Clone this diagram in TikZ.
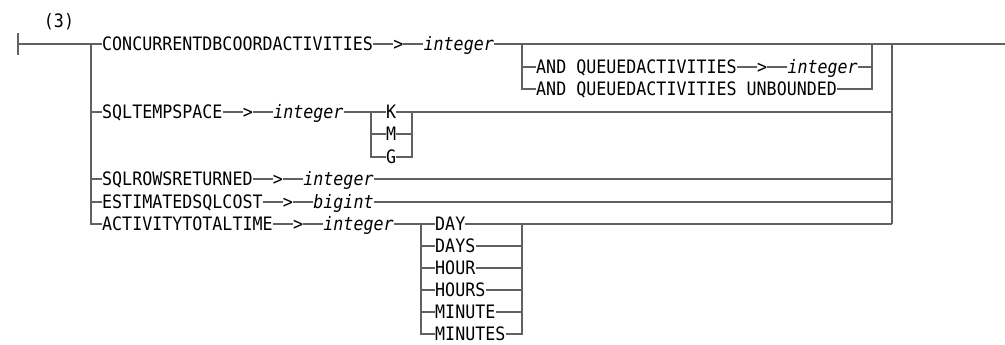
\documentclass[tikz,border=0pt]{standalone}
\usepackage{fontspec}
\newfontfamily\railfont[FakeStretch=0.9]{DejaVu Sans Mono}
\usetikzlibrary{positioning,calc}

\begin{document}
\begin{tikzpicture}[
            x=1pt, y=-1pt,
            node distance=20pt,
            kw/.style={inner sep=0pt, text height=13.5pt, text depth=0pt,
                       font={\fontsize{18.5pt}{19pt}\railfont}},
            var/.style={kw, font={\fontsize{18.5pt}{19pt}\railfont\itshape}},
            rail/.style={line width=1.6pt, draw=black!62}
        ]
            \useasboundingbox (0,0) rectangle (1005,345);

            \node[kw] (note) at (59,21) {(3)};
            \coordinate (start) at (18,44);
            \coordinate (split) at (91,44);
            \coordinate (join) at (892,44);
            \coordinate (finish) at (1005,44);

            \node[kw, anchor=west] (conc) at (102,44) {CONCURRENTDBCOORDACTIVITIES};
            \node[kw, right=of conc] (concgt) {>};
            \node[var, right=of concgt] (concint) {integer};
            \coordinate (qsplit) at (522,44);
            \coordinate (qjoin) at (872,44);
            \node[kw, anchor=west] (queue) at (536,67) {AND QUEUEDACTIVITIES};
            \node[kw, right=of queue] (queuegt) {>};
            \node[var, right=of queuegt] (queueint) {integer};
            \node[kw, anchor=west] (unbound) at (536,89) {AND QUEUEDACTIVITIES UNBOUNDED};

            \node[kw, anchor=west] (temp) at (102,112) {SQLTEMPSPACE};
            \node[kw, right=of temp] (tempgt) {>};
            \node[var, right=of tempgt] (tempint) {integer};
            \coordinate (usplit) at (371,112);
            \coordinate (ujoin) at (412,112);
            \node[kw, anchor=west] (kilo) at (386,112) {K};
            \node[kw, anchor=west] (mega) at (386,134) {M};
            \node[kw, anchor=west] (giga) at (386,157) {G};

            \node[kw, anchor=west] (rows) at (102,179) {SQLROWSRETURNED};
            \node[kw, right=of rows] (rowsgt) {>};
            \node[var, right=of rowsgt] (rowsint) {integer};

            \node[kw, anchor=west] (cost) at (102,202) {ESTIMATEDSQLCOST};
            \node[kw, right=of cost] (costgt) {>};
            \node[var, right=of costgt] (costint) {bigint};

            \node[kw, anchor=west] (time) at (102,224) {ACTIVITYTOTALTIME};
            \node[kw, right=of time] (timegt) {>};
            \node[var, right=of timegt] (timeint) {integer};
            \coordinate (tsplit) at (421,224);
            \coordinate (tjoin) at (522,224);

            \draw[rail] ([yshift=-11pt]start) -- ([yshift=11pt]start);
            \draw[rail] (start) -- (split) -- (conc.west);
            \draw[rail] (conc) -- (concgt) -- (concint) -- (join) -- (finish);
            \draw[rail] (qsplit) |- (queue.west);
            \draw[rail] (qsplit) |- (unbound.west);
            \draw[rail] (queue) -- (queuegt) -- (queueint);
            \draw[rail] (queueint.east) -| (qjoin);
            \draw[rail] (unbound.east) -| (qjoin);

            \draw[rail] (split) |- (time.west);
            \draw[rail] (split) |- (temp.west);
            \draw[rail] (split) |- (rows.west);
            \draw[rail] (split) |- (cost.west);
            \draw[rail] (join) -- (join |- tjoin);

            \draw[rail] (temp) -- (tempgt) -- (tempint) -- (usplit) -- (kilo) -- (ujoin) -- (join |- ujoin);
            \draw[rail] (usplit) |- (mega.west);
            \draw[rail] (usplit) |- (giga.west);
            \draw[rail] (mega.east) -| (ujoin);
            \draw[rail] (giga.east) -| (ujoin);

            \draw[rail] (rows) -- (rowsgt) -- (rowsint) -- (join |- rowsint);
            \draw[rail] (cost) -- (costgt) -- (costint) -- (join |- costint);
            \draw[rail] (time) -- (timegt) -- (timeint) -- (tsplit);
            \draw[rail] (tjoin) -- (join |- tjoin);

            \foreach \unit/\y [count=\i] in {DAY/224,DAYS/246,HOUR/268,HOURS/290,MINUTE/312,MINUTES/334} {
                \node[kw, anchor=west] (unit\i) at (435,\y) {\unit};
                \draw[rail] (tsplit) |- (unit\i.west);
                \draw[rail] (unit\i.east) -| (tjoin);
            }
        \end{tikzpicture}
\end{document}
